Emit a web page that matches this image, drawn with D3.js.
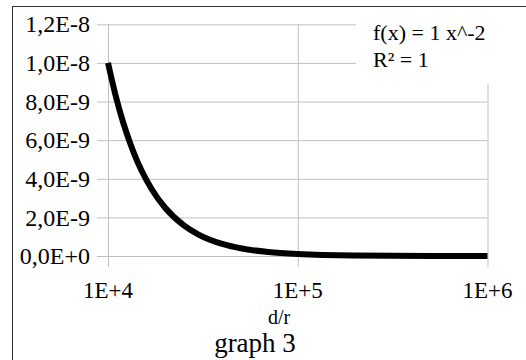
<!DOCTYPE html>
<html>
<head>
<meta charset="utf-8">
<script src="https://cdn.jsdelivr.net/npm/d3@7"></script>
<style>
  html, body { margin: 0; padding: 0; background: #fff; }
  svg { display: block; }
</style>
</head>
<body>
<svg id="chart" width="526" height="360"></svg>
<script>
// Data
const xValues = [10000, 11000, 12000, 13000, 14000, 15000, 17000, 20000, 25000, 30000, 40000, 50000, 70000, 100000, 200000, 500000, 1000000];
const yValues = [1.0e-8, 8.26e-9, 6.94e-9, 5.92e-9, 5.10e-9, 4.44e-9, 3.46e-9, 2.5e-9, 1.6e-9, 1.11e-9, 6.25e-10, 4.0e-10, 2.04e-10, 1.0e-10, 2.5e-11, 4e-12, 1e-12];
const yTicks = [0, 2e-9, 4e-9, 6e-9, 8e-9, 1e-8, 1.2e-8];
const yTickLabels = ["0,0E+0", "2,0E-9", "4,0E-9", "6,0E-9", "8,0E-9", "1,0E-8", "1,2E-8"];
const xTicks = [1e4, 1e5, 1e6];
const xTickLabels = ["1E+4", "1E+5", "1E+6"];
const legendLines = ["f(x) = 1 x^-2", "R\u00B2 = 1"];
const xTitle = "d/r";
const chartTitle = "graph 3";

const FONT = "Liberation Serif";

const svg = d3.select("#chart");

const x = d3.scaleLog().domain([1e4, 1e6]).range([108, 487.5]);
const y = d3.scaleLinear().domain([0, 1.2e-8]).range([256, 24.3]);

// outer frame
svg.append("rect")
  .attr("x", 12.5).attr("y", 6.5)
  .attr("width", 600).attr("height", 600)
  .attr("fill", "none").attr("stroke", "#333").attr("stroke-width", 1);

// horizontal gridlines (with tick extension to the left)
svg.append("g")
  .attr("transform", "translate(108,0)")
  .call(d3.axisLeft(y).tickValues(yTicks).tickSize(11).tickFormat(""))
  .call(g => g.select(".domain").remove())
  .call(g => g.selectAll(".tick line").attr("stroke", "#c0c0c0").attr("stroke-width", 1))
  .call(g => g.selectAll(".tick").append("line")
      .attr("x1", 0).attr("x2", x(1e6) - 108)
      .attr("stroke", "#c0c0c0").attr("stroke-width", 1));

// vertical gridlines (with tick extension below)
svg.append("g")
  .attr("transform", "translate(0,256)")
  .call(d3.axisBottom(x).tickValues(xTicks).tickSize(11).tickFormat(""))
  .call(g => g.select(".domain").remove())
  .call(g => g.selectAll(".tick line").attr("stroke", "#c0c0c0").attr("stroke-width", 1))
  .call(g => g.selectAll(".tick").append("line")
      .attr("y1", 0).attr("y2", y(1.2e-8) - 256)
      .attr("stroke", "#c0c0c0").attr("stroke-width", 1));

// y tick labels
svg.append("g").selectAll("text")
  .data(yTicks)
  .join("text")
  .attr("x", 90)
  .attr("y", d => y(d))
  .attr("dy", "0.34em")
  .attr("text-anchor", "end")
  .attr("font-family", FONT)
  .attr("font-size", 24)
  .text((d, i) => yTickLabels[i]);

// x tick labels
svg.append("g").selectAll("text")
  .data(xTicks)
  .join("text")
  .attr("x", d => x(d))
  .attr("y", 298)
  .attr("text-anchor", "middle")
  .attr("font-family", FONT)
  .attr("font-size", 23)
  .text((d, i) => xTickLabels[i]);

// curve
const pts = xValues.map((v, i) => [v, yValues[i]]);
svg.append("path")
  .datum(pts)
  .attr("fill", "none")
  .attr("stroke", "#000")
  .attr("stroke-width", 6)
  .attr("d", d3.line().x(d => x(d[0])).y(d => y(d[1])).curve(d3.curveMonotoneX));

// legend (white box covering grid)
svg.append("rect")
  .attr("x", 356).attr("y", 10).attr("width", 170).attr("height", 74)
  .attr("fill", "#fff");
svg.append("g").selectAll("text")
  .data(legendLines)
  .join("text")
  .attr("x", 373)
  .attr("y", (d, i) => 40 + i * 27)
  .attr("font-family", FONT)
  .attr("font-size", 22)
  .text(d => d);

// axis title
svg.append("text")
  .attr("x", 279).attr("y", 324)
  .attr("text-anchor", "middle")
  .attr("font-family", FONT)
  .attr("font-size", 20)
  .text(xTitle);

// chart title
svg.append("text")
  .attr("x", 255).attr("y", 352)
  .attr("text-anchor", "middle")
  .attr("font-family", FONT)
  .attr("font-size", 27)
  .text(chartTitle);
</script>
</body>
</html>
